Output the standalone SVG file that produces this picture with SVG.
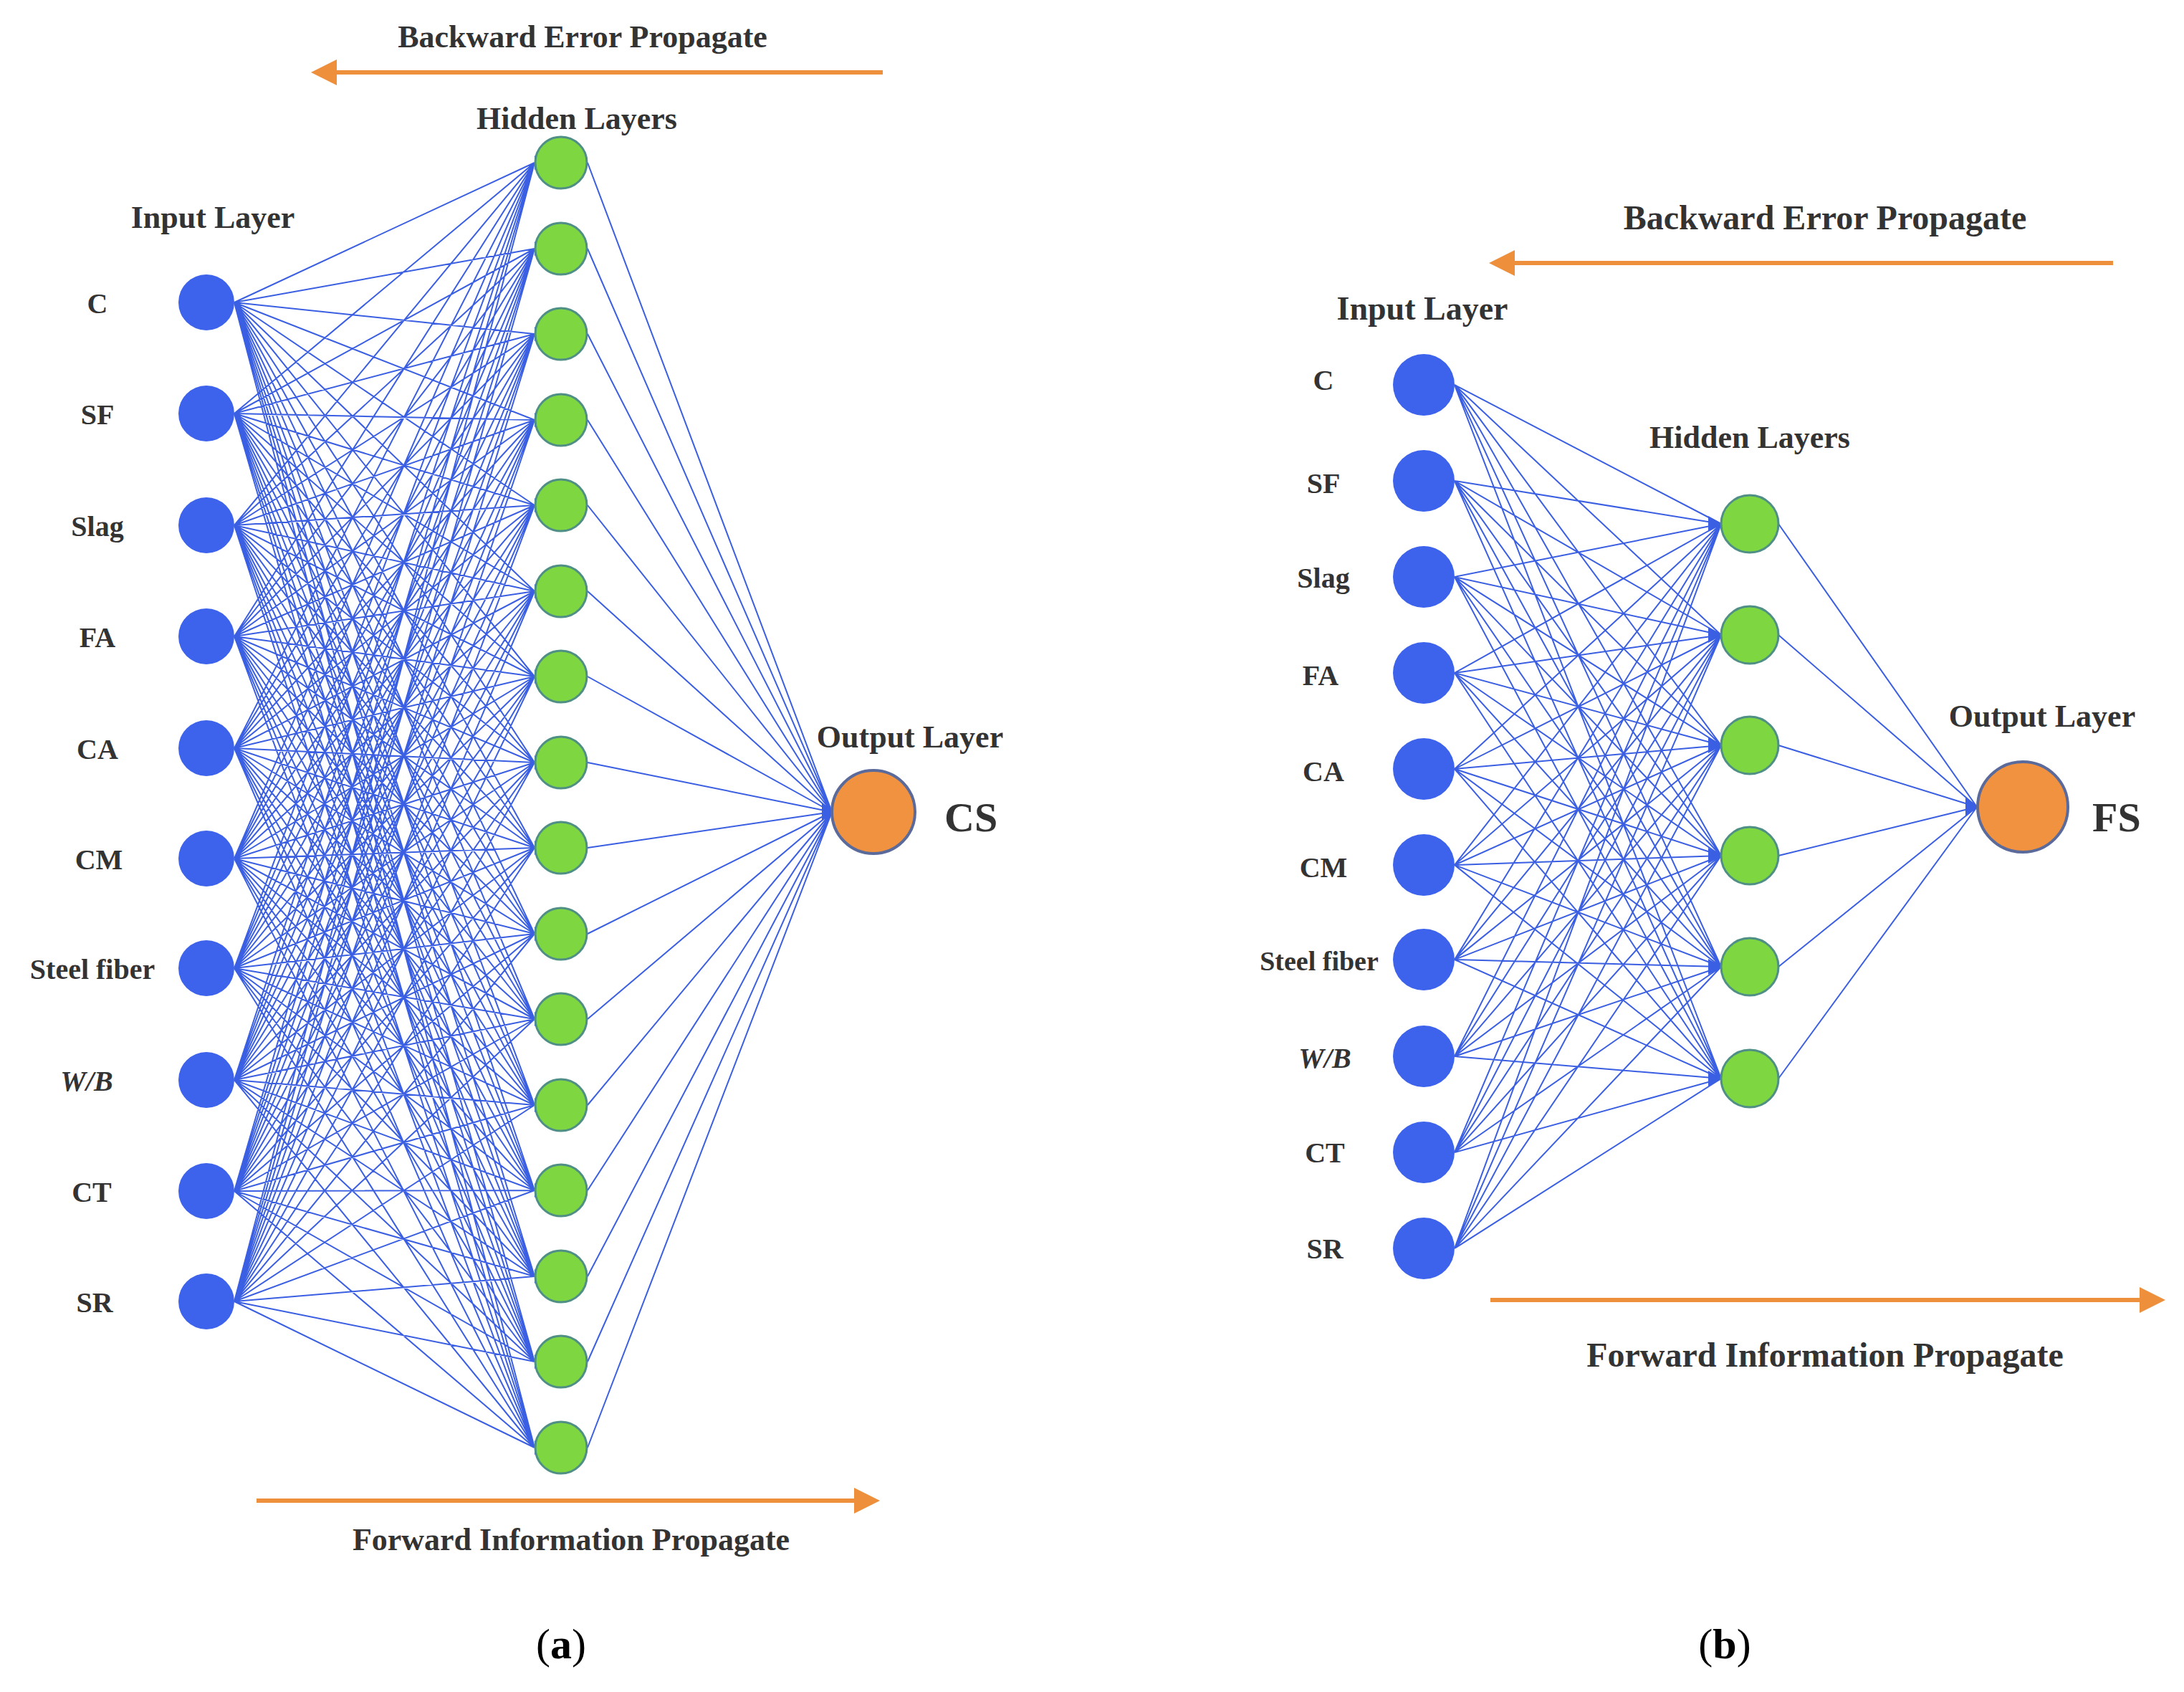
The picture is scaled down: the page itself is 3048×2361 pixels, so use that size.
<svg xmlns="http://www.w3.org/2000/svg" width="3048" height="2361" viewBox="0 0 3048 2361">
<style>
.t{font-family:"Liberation Serif",serif;font-weight:bold;fill:#333;}
.l{stroke:#3b5fe2;stroke-width:2;fill:none}
.in{fill:#3d63ec}
.hid{fill:#7ed640;stroke:#4f8f86;stroke-width:3}
.out{fill:#f0923f;stroke:#5a6a9a;stroke-width:4}
.ar{stroke:#ed8f3b;stroke-width:6}
.ah{fill:#3b5fe2}
</style>
<defs>
<marker id="oa" markerWidth="6" markerHeight="6" refX="5" refY="3" orient="auto" markerUnits="strokeWidth"><path d="M0,0L6,3L0,6z" fill="#ed8f3b"/></marker>
</defs>
<rect width="3048" height="2361" fill="#fff"/>
<g id="connectors">
<path class="l" d="M327 422L746 227M327 422L746 347M327 422L746 466M327 422L746 586M327 422L746 705M327 422L746 825M327 422L746 944M327 422L746 1064M327 422L746 1183M327 422L746 1303M327 422L746 1422M327 422L746 1542M327 422L746 1661M327 422L746 1781M327 422L746 1900M327 422L746 2020
M327 577L746 227M327 577L746 347M327 577L746 466M327 577L746 586M327 577L746 705M327 577L746 825M327 577L746 944M327 577L746 1064M327 577L746 1183M327 577L746 1303M327 577L746 1422M327 577L746 1542M327 577L746 1661M327 577L746 1781M327 577L746 1900M327 577L746 2020
M327 733L746 227M327 733L746 347M327 733L746 466M327 733L746 586M327 733L746 705M327 733L746 825M327 733L746 944M327 733L746 1064M327 733L746 1183M327 733L746 1303M327 733L746 1422M327 733L746 1542M327 733L746 1661M327 733L746 1781M327 733L746 1900M327 733L746 2020
M327 888L746 227M327 888L746 347M327 888L746 466M327 888L746 586M327 888L746 705M327 888L746 825M327 888L746 944M327 888L746 1064M327 888L746 1183M327 888L746 1303M327 888L746 1422M327 888L746 1542M327 888L746 1661M327 888L746 1781M327 888L746 1900M327 888L746 2020
M327 1044L746 227M327 1044L746 347M327 1044L746 466M327 1044L746 586M327 1044L746 705M327 1044L746 825M327 1044L746 944M327 1044L746 1064M327 1044L746 1183M327 1044L746 1303M327 1044L746 1422M327 1044L746 1542M327 1044L746 1661M327 1044L746 1781M327 1044L746 1900M327 1044L746 2020
M327 1198L746 227M327 1198L746 347M327 1198L746 466M327 1198L746 586M327 1198L746 705M327 1198L746 825M327 1198L746 944M327 1198L746 1064M327 1198L746 1183M327 1198L746 1303M327 1198L746 1422M327 1198L746 1542M327 1198L746 1661M327 1198L746 1781M327 1198L746 1900M327 1198L746 2020
M327 1351L746 227M327 1351L746 347M327 1351L746 466M327 1351L746 586M327 1351L746 705M327 1351L746 825M327 1351L746 944M327 1351L746 1064M327 1351L746 1183M327 1351L746 1303M327 1351L746 1422M327 1351L746 1542M327 1351L746 1661M327 1351L746 1781M327 1351L746 1900M327 1351L746 2020
M327 1507L746 227M327 1507L746 347M327 1507L746 466M327 1507L746 586M327 1507L746 705M327 1507L746 825M327 1507L746 944M327 1507L746 1064M327 1507L746 1183M327 1507L746 1303M327 1507L746 1422M327 1507L746 1542M327 1507L746 1661M327 1507L746 1781M327 1507L746 1900M327 1507L746 2020
M327 1662L746 227M327 1662L746 347M327 1662L746 466M327 1662L746 586M327 1662L746 705M327 1662L746 825M327 1662L746 944M327 1662L746 1064M327 1662L746 1183M327 1662L746 1303M327 1662L746 1422M327 1662L746 1542M327 1662L746 1661M327 1662L746 1781M327 1662L746 1900M327 1662L746 2020
M327 1816L746 227M327 1816L746 347M327 1816L746 466M327 1816L746 586M327 1816L746 705M327 1816L746 825M327 1816L746 944M327 1816L746 1064M327 1816L746 1183M327 1816L746 1303M327 1816L746 1422M327 1816L746 1542M327 1816L746 1661M327 1816L746 1781M327 1816L746 1900M327 1816L746 2020
M820 227L1161 1133M820 347L1161 1133M820 466L1161 1133M820 586L1161 1133M820 705L1161 1133M820 825L1161 1133M820 944L1161 1133M820 1064L1161 1133M820 1183L1161 1133M820 1303L1161 1133M820 1422L1161 1133M820 1542L1161 1133M820 1661L1161 1133M820 1781L1161 1133M820 1900L1161 1133M820 2020L1161 1133"/>
<path class="ah" d="M746 217L762 227L746 237zM746 337L762 347L746 357zM746 456L762 466L746 476zM746 576L762 586L746 596zM746 695L762 705L746 715zM746 815L762 825L746 835zM746 934L762 944L746 954zM746 1054L762 1064L746 1074zM746 1173L762 1183L746 1193zM746 1293L762 1303L746 1313zM746 1412L762 1422L746 1432zM746 1532L762 1542L746 1552zM746 1651L762 1661L746 1671zM746 1771L762 1781L746 1791zM746 1890L762 1900L746 1910zM746 2010L762 2020L746 2030zM1147 1120L1165 1133L1147 1146z"/>
<path class="l" d="M2030 537L2402 731M2030 537L2402 886M2030 537L2402 1040M2030 537L2402 1194M2030 537L2402 1349M2030 537L2402 1505
M2030 671L2402 731M2030 671L2402 886M2030 671L2402 1040M2030 671L2402 1194M2030 671L2402 1349M2030 671L2402 1505
M2030 805L2402 731M2030 805L2402 886M2030 805L2402 1040M2030 805L2402 1194M2030 805L2402 1349M2030 805L2402 1505
M2030 939L2402 731M2030 939L2402 886M2030 939L2402 1040M2030 939L2402 1194M2030 939L2402 1349M2030 939L2402 1505
M2030 1073L2402 731M2030 1073L2402 886M2030 1073L2402 1040M2030 1073L2402 1194M2030 1073L2402 1349M2030 1073L2402 1505
M2030 1207L2402 731M2030 1207L2402 886M2030 1207L2402 1040M2030 1207L2402 1194M2030 1207L2402 1349M2030 1207L2402 1505
M2030 1339L2402 731M2030 1339L2402 886M2030 1339L2402 1040M2030 1339L2402 1194M2030 1339L2402 1349M2030 1339L2402 1505
M2030 1474L2402 731M2030 1474L2402 886M2030 1474L2402 1040M2030 1474L2402 1194M2030 1474L2402 1349M2030 1474L2402 1505
M2030 1608L2402 731M2030 1608L2402 886M2030 1608L2402 1040M2030 1608L2402 1194M2030 1608L2402 1349M2030 1608L2402 1505
M2030 1742L2402 731M2030 1742L2402 886M2030 1742L2402 1040M2030 1742L2402 1194M2030 1742L2402 1349M2030 1742L2402 1505
M2482 731L2759 1126M2482 886L2759 1126M2482 1040L2759 1126M2482 1194L2759 1126M2482 1349L2759 1126M2482 1505L2759 1126"/>
<path class="ah" d="M2384 720L2404 731L2384 742zM2384 875L2404 886L2384 897zM2384 1029L2404 1040L2384 1051zM2384 1183L2404 1194L2384 1205zM2384 1338L2404 1349L2384 1360zM2384 1494L2404 1505L2384 1516zM2743 1113L2761 1126L2743 1139z"/>
<line class="ar" x1="1232" y1="101" x2="440" y2="101" marker-end="url(#oa)"/>
<line class="ar" x1="358" y1="2094" x2="1222" y2="2094" marker-end="url(#oa)"/>
<line class="ar" x1="2949" y1="367" x2="2084" y2="367" marker-end="url(#oa)"/>
<line class="ar" x1="2080" y1="1814" x2="3016" y2="1814" marker-end="url(#oa)"/>
</g>
<g id="inputs-a">
<circle class="in" cx="288" cy="422" r="39"/><circle class="in" cx="288" cy="577" r="39"/><circle class="in" cx="288" cy="733" r="39"/><circle class="in" cx="288" cy="888" r="39"/><circle class="in" cx="288" cy="1044" r="39"/><circle class="in" cx="288" cy="1198" r="39"/><circle class="in" cx="288" cy="1351" r="39"/><circle class="in" cx="288" cy="1507" r="39"/><circle class="in" cx="288" cy="1662" r="39"/><circle class="in" cx="288" cy="1816" r="39"/>
</g>
<g id="hidden-a">
<circle class="hid" cx="783" cy="227" r="36"/><circle class="hid" cx="783" cy="347" r="36"/><circle class="hid" cx="783" cy="466" r="36"/><circle class="hid" cx="783" cy="586" r="36"/><circle class="hid" cx="783" cy="705" r="36"/><circle class="hid" cx="783" cy="825" r="36"/><circle class="hid" cx="783" cy="944" r="36"/><circle class="hid" cx="783" cy="1064" r="36"/><circle class="hid" cx="783" cy="1183" r="36"/><circle class="hid" cx="783" cy="1303" r="36"/><circle class="hid" cx="783" cy="1422" r="36"/><circle class="hid" cx="783" cy="1542" r="36"/><circle class="hid" cx="783" cy="1661" r="36"/><circle class="hid" cx="783" cy="1781" r="36"/><circle class="hid" cx="783" cy="1900" r="36"/><circle class="hid" cx="783" cy="2020" r="36"/>
</g>
<g id="output-a"><circle class="out" cx="1219" cy="1133" r="58"/><text class="t" x="1318" y="1160" font-size="58">CS</text></g>
<g id="inputs-b">
<circle class="in" cx="1987" cy="537" r="43"/><circle class="in" cx="1987" cy="671" r="43"/><circle class="in" cx="1987" cy="805" r="43"/><circle class="in" cx="1987" cy="939" r="43"/><circle class="in" cx="1987" cy="1073" r="43"/><circle class="in" cx="1987" cy="1207" r="43"/><circle class="in" cx="1987" cy="1339" r="43"/><circle class="in" cx="1987" cy="1474" r="43"/><circle class="in" cx="1987" cy="1608" r="43"/><circle class="in" cx="1987" cy="1742" r="43"/>
</g>
<g id="hidden-b">
<circle class="hid" cx="2442" cy="731" r="40"/><circle class="hid" cx="2442" cy="886" r="40"/><circle class="hid" cx="2442" cy="1040" r="40"/><circle class="hid" cx="2442" cy="1194" r="40"/><circle class="hid" cx="2442" cy="1349" r="40"/><circle class="hid" cx="2442" cy="1505" r="40"/>
</g>
<g id="output-b"><circle class="out" cx="2823" cy="1126" r="63"/><text class="t" x="2920" y="1160" font-size="58">FS</text></g>
<g id="labels" class="t" font-size="40" text-anchor="middle">
<text x="813" y="66" font-size="44">Backward Error Propagate</text>
<text x="805" y="180" font-size="44">Hidden Layers</text>
<text x="297" y="318" font-size="44">Input Layer</text>
<text x="1270" y="1043" font-size="44">Output Layer</text>
<text x="797" y="2163" font-size="44">Forward Information Propagate</text>
<text x="136" y="437">C</text><text x="136" y="592">SF</text><text x="136" y="748">Slag</text><text x="136" y="903">FA</text><text x="136" y="1059">CA</text><text x="138" y="1213">CM</text><text x="129" y="1366">Steel fiber</text><text x="121" y="1522" font-style="italic">W/B</text><text x="128" y="1677">CT</text><text x="132" y="1831">SR</text>
<text x="2547" y="320" font-size="48">Backward Error Propagate</text>
<text x="1985" y="446" font-size="46">Input Layer</text>
<text x="2442" y="625" font-size="44">Hidden Layers</text>
<text x="2850" y="1014" font-size="44">Output Layer</text>
<text x="2547" y="1907" font-size="48">Forward Information Propagate</text>
<text x="1847" y="544">C</text><text x="1847" y="688">SF</text><text x="1847" y="820">Slag</text><text x="1843" y="956">FA</text><text x="1847" y="1090">CA</text><text x="1847" y="1224">CM</text><text x="1841" y="1354" font-size="38">Steel fiber</text><text x="1849" y="1490" font-style="italic">W/B</text><text x="1849" y="1622">CT</text><text x="1849" y="1756">SR</text>
</g>
<g id="captions" font-family="Liberation Serif,serif" font-size="60" text-anchor="middle" fill="#000">
<text x="783" y="2314">(<tspan font-weight="bold">a</tspan>)</text>
<text x="2407" y="2314">(<tspan font-weight="bold">b</tspan>)</text>
</g>
</svg>
